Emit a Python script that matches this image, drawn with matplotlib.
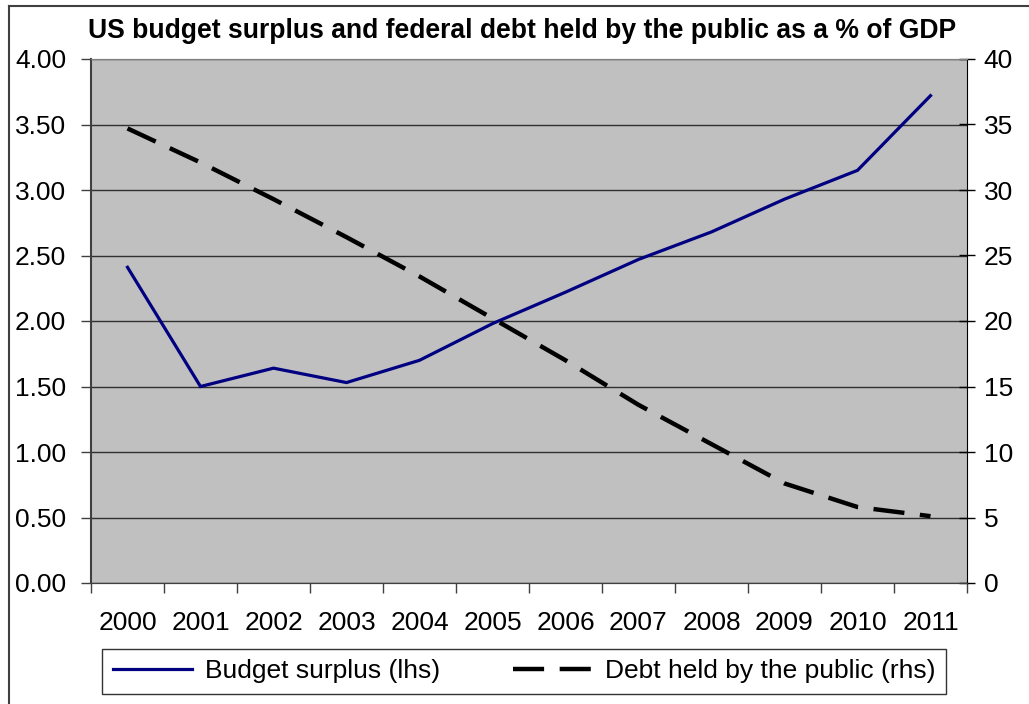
import matplotlib
matplotlib.use("Agg")
import matplotlib.pyplot as plt
from matplotlib.ticker import FixedLocator, NullFormatter
from matplotlib.lines import Line2D
import numpy as np

years = ["2000", "2001", "2002", "2003", "2004", "2005", "2006", "2007", "2008", "2009", "2010", "2011"]
surplus = [2.41, 1.50, 1.64, 1.53, 1.70, 1.98, 2.22, 2.47, 2.68, 2.93, 3.15, 3.72]
debt = [34.7, 32.1, 29.3, 26.4, 23.4, 20.2, 17.0, 13.6, 10.6, 7.6, 5.8, 5.1]

plt.rcParams['font.family'] = ['Liberation Sans', 'DejaVu Sans']
FS = 19

fig = plt.figure(figsize=(10.29, 7.04), dpi=100)
W, H = 1029, 704
ax = fig.add_axes([91 / W, 1 - 583 / H, (967 - 91) / W, (583 - 59) / H])
ax2 = ax.twinx()

x = np.arange(len(years))
ax.set_facecolor('#C0C0C0')
ax.plot(x, surplus, color='#000080', lw=2.3, solid_joinstyle='miter', zorder=3)
ax2.plot(x, debt, color='black', lw=3.2, dashes=(7, 3.5), zorder=3)

ax.set_xlim(-0.5, len(years) - 0.5)
ax.set_ylim(0, 4)
ax2.set_ylim(0, 40)
ax.set_yticks(np.arange(0, 4.01, 0.5))
ax.set_yticklabels([f"{v:.2f}" for v in np.arange(0, 4.01, 0.5)])
ax2.set_yticks(np.arange(0, 41, 5))
ax2.set_yticklabels([str(v) for v in range(0, 41, 5)])

ax.set_xticks(x)
ax.set_xticklabels(years)
ax.tick_params(axis='x', which='major', length=0, pad=20, labelsize=FS)
ax.xaxis.set_minor_locator(FixedLocator(np.arange(-0.5, len(years), 1.0)))
ax.xaxis.set_minor_formatter(NullFormatter())
ax.tick_params(axis='x', which='minor', length=7, width=1, color='#404040')
ax.tick_params(axis='y', length=7, width=1, color='#404040', labelsize=FS, pad=11)
ax2.tick_params(axis='y', direction='inout', length=12, width=1, color='black', labelsize=FS, pad=6)

ax.yaxis.grid(True, color='#303030', lw=1)
ax.set_axisbelow(True)
ax.spines['top'].set_color('#808080')
ax2.spines['top'].set_color('#808080')
ax.spines['left'].set_color('#404040')
ax.spines['left'].set_linewidth(1.5)
ax2.spines['left'].set_visible(False)
ax2.spines['right'].set_color('black')
ax.spines['right'].set_visible(False)
ax2.spines['bottom'].set_color('#404040')
ax.spines['bottom'].set_color('#404040')

fig.text(522 / W, 1 - 31 / H, "US budget surplus and federal debt held by the public as a % of GDP",
         ha='center', va='center', fontsize=19.1, fontweight='bold')

h1 = ax.lines[0]
h2 = ax2.lines[0]
leg = fig.legend([h1, h2], ["Budget surplus (lhs)", "Debt held by the public (rhs)"],
                 loc='lower left', bbox_to_anchor=(102 / W, 1 - 694 / H, (946 - 102) / W, 48 / H),
                 mode='expand', ncol=2, fontsize=FS, frameon=True, fancybox=False,
                 edgecolor='black', handlelength=3.0, handletextpad=0.5,
                 borderpad=0.4, borderaxespad=0)
leg.get_frame().set_linewidth(1)

# outer chart frame (left and top edges visible)
fig.add_artist(Line2D([8.5 / W, 8.5 / W], [0, 1 - 6 / H], transform=fig.transFigure,
                      color='#404040', lw=1.5))
fig.add_artist(Line2D([8.5 / W, 1], [1 - 6 / H, 1 - 6 / H], transform=fig.transFigure,
                      color='#404040', lw=1.5))
fig.savefig("out.png", dpi=100)
